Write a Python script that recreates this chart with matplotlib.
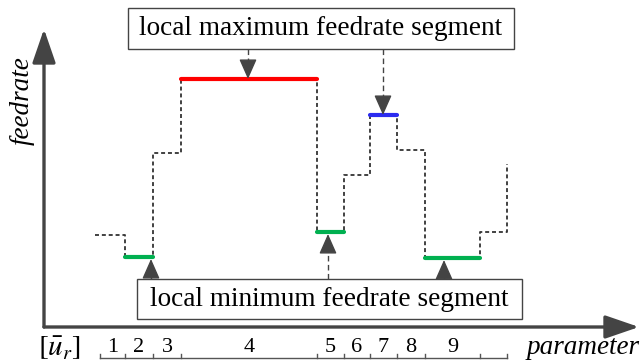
import matplotlib
matplotlib.use("Agg")
import matplotlib.pyplot as plt
from matplotlib.patches import Rectangle, FancyArrowPatch

plt.rcParams["mathtext.fontset"] = "stix"
SERIF = ["Liberation Serif", "DejaVu Serif"]

# Parameter knots bounding each constant-feedrate segment
knots = [0, 25, 53, 81, 217, 244, 270, 297, 325, 380, 407]
# Feedrate of each segment between consecutive knots
feedrate = [92, 70, 174, 248, 95, 152, 212, 177, 69, 95]
# Feedrate the curve steps up to at the final knot
tail_feedrate = 163
segment_labels = ["1", "2", "3", "4", "5", "6", "7", "8", "9"]

# Highlighted segments: index -> colour
local_max = {3: "#ff0000", 6: "#2b2bf0"}
local_min = {1: "#00b050", 4: "#00b050", 8: "#00b050"}

AXIS_COL = "#444444"

fig = plt.figure(figsize=(6.4, 3.63), dpi=100)
ax = fig.add_axes([0, 0, 1, 1])
ax.set_xlim(-100, 540)
ax.set_ylim(-36, 327)
ax.axis("off")

# Piecewise-constant feedrate profile
xs, ys = [knots[0] - 5], [feedrate[0]]
for i, f in enumerate(feedrate):
    xs += [knots[i], knots[i + 1]]
    ys += [f, f]
xs.append(knots[-1])
ys.append(tail_feedrate)
ax.plot(xs, ys, color="#333333", lw=1.3, ls=(0, (2.2, 1.6)), zorder=2)

for idx, col in {**local_max, **local_min}.items():
    ax.plot([knots[idx], knots[idx + 1]], [feedrate[idx]] * 2, color=col,
            lw=3.0, solid_capstyle="round", zorder=3)

# Coordinate axes with arrow heads
x0 = -56
for start, end in [((x0, 0), (x0, 298)), ((x0, 0), (539, 0))]:
    ax.add_patch(FancyArrowPatch(start, end, arrowstyle="-|>,head_length=1.6,head_width=0.55",
                                 mutation_scale=13, color=AXIS_COL, lw=2.4,
                                 shrinkA=0, shrinkB=0, zorder=4))
ax.text(-78, 226, "feedrate", rotation=90, ha="center", va="center",
        fontsize=19.5, style="italic", family=SERIF)
ax.text(483, -21, "parameter", ha="center", va="center",
        fontsize=19.5, style="italic", family=SERIF)

# Segment index ruler under the axis
ruler_y = -31
ax.plot([knots[0], knots[-1]], [ruler_y, ruler_y], color="#555555", lw=1.0)
for k in knots:
    ax.plot([k, k], [ruler_y, ruler_y + 4], color="#555555", lw=1.0)
for i, lab in enumerate(segment_labels):
    ax.text((knots[i] + knots[i + 1]) / 2, -20, lab, ha="center", va="center",
            fontsize=16, family=SERIF)
ax.text(-40, -21, r"$[\bar{u}_r]$", ha="center", va="center", fontsize=21)

# Annotation boxes
def box(x1, x2, y1, y2, text):
    ax.add_patch(Rectangle((x1, y1), x2 - x1, y2 - y1, fill=True, fc="white",
                           ec=AXIS_COL, lw=1.0, zorder=5))
    ax.text((x1 + x2) / 2, (y1 + y2) / 2, text, ha="center", va="center",
            fontsize=19.6, family=SERIF, zorder=6)

box(28, 414, 278, 319, "local maximum feedrate segment")
box(37, 422, 8, 48, "local minimum feedrate segment")

def pointer(x, y_from, y_to):
    direction = 1 if y_to > y_from else -1
    head = 13
    ax.plot([x, x], [y_from, y_to - direction * head], color=AXIS_COL,
            lw=1.0, ls=(0, (4, 2.5)), zorder=4)
    ax.add_patch(FancyArrowPatch((x, y_to - direction * head), (x, y_to),
                                 arrowstyle="-|>,head_length=0.95,head_width=0.42",
                                 mutation_scale=13, color=AXIS_COL, lw=1.0,
                                 shrinkA=0, shrinkB=0, zorder=4))

pointer(148, 278, feedrate[3])
pointer(283, 278, feedrate[6])
pointer(51, 48, feedrate[1] - 2)
pointer(228, 48, feedrate[4] - 2)
pointer(344, 48, feedrate[8] - 2)

fig.savefig("out.png", dpi=100)
